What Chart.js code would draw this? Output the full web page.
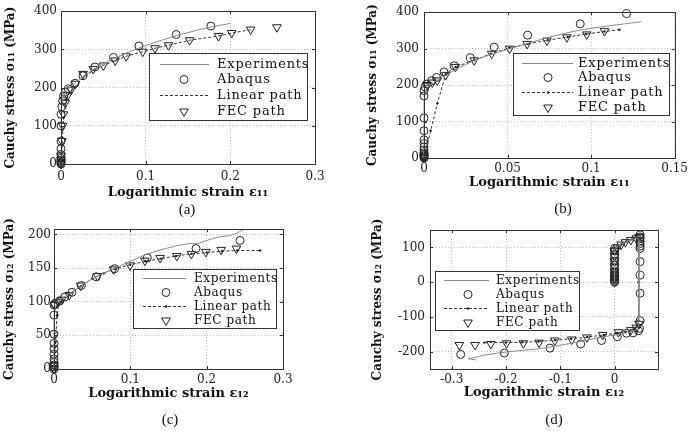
<!DOCTYPE html>
<html>
<head>
<meta charset="utf-8">
<script src="https://cdn.jsdelivr.net/npm/chart.js@4/dist/chart.umd.min.js"></script>
<style>
  body { margin: 0; background: #fff; }
  #fig { position: relative; width: 692px; height: 431px; overflow: hidden; }
  .panel { position: absolute; }
  .cap { position: absolute; font-family: 'Liberation Serif', serif; font-size: 15px; color: #111; transform: translate(-50%, -50%); }
</style>
</head>
<body>
<div id="fig">
  <canvas class="panel" id="chart-a" width="346" height="215" style="left:0;top:0"></canvas>
  <canvas class="panel" id="chart-b" width="346" height="215" style="left:346px;top:0"></canvas>
  <canvas class="panel" id="chart-c" width="346" height="216" style="left:0;top:215px"></canvas>
  <canvas class="panel" id="chart-d" width="346" height="216" style="left:346px;top:215px"></canvas>
  <div class="cap" style="left:187px;top:209px">(a)</div>
  <div class="cap" style="left:563px;top:208px">(b)</div>
  <div class="cap" style="left:170px;top:419px">(c)</div>
  <div class="cap" style="left:554px;top:419px">(d)</div>
</div>
<script>
// series names
const seriesLabels = ['Experiments', 'Abaqus', 'Linear path', 'FEC path'];

// (a) sigma11 vs eps11
const aXTicks = [0, 0.1, 0.2, 0.3];
const aYTicks = [0, 100, 200, 300, 400];
const aExperiments = [[0,0],[0,60],[0.0005,120],[0.001,150],[0.002,170],[0.004,183],[0.008,195],[0.015,210],[0.025,228],[0.04,250],[0.06,274],[0.08,293],[0.1,310],[0.12,325],[0.14,338],[0.16,350],[0.18,360],[0.2,368]];
const aAbaqus = [[0,0],[0,3],[0,8],[0,15],[0,25],[0,40],[0,60],[0,100],[0,130],[0.001,150],[0.002,165],[0.003,178],[0.005,188],[0.0086,197],[0.0165,211],[0.026,231],[0.04,254],[0.062,279],[0.092,309],[0.136,339],[0.177,361]];
const aLinear = [[0,0],[0.003,120],[0.006,165],[0.01,185],[0.017,205],[0.026,225],[0.038,245],[0.05,258],[0.064,271],[0.077,282],[0.097,294],[0.111,303],[0.127,311],[0.152,324],[0.186,335],[0.202,343],[0.225,352]];
const aFec = [[0,0],[0,5],[0,12],[0,22],[0.001,60],[0.002,100],[0.003,130],[0.005,160],[0.008,180],[0.012,195],[0.017,210],[0.026,236],[0.038,249],[0.05,258],[0.064,271],[0.077,282],[0.0965,294],[0.111,303],[0.127,311],[0.152,324],[0.186,335],[0.2016,343],[0.224,352],[0.255,358]];

// (b) sigma11 vs eps11
const bXTicks = [0, 0.05, 0.1, 0.15];
const bYTicks = [0, 100, 200, 300, 400];
const bExperiments = [[0,0],[0,100],[0,150],[0.001,185],[0.003,198],[0.006,208],[0.01,220],[0.02,245],[0.03,268],[0.04,284],[0.05,298],[0.06,312],[0.075,332],[0.09,348],[0.1,356],[0.11,362],[0.12,368],[0.13,374]];
const bAbaqus = [[0,0],[0,3],[0,6],[0,10],[0,15],[0,22],[0,30],[0,40],[0,50],[0,75],[0,110],[0,170],[0,185],[0.0006,195],[0.0016,203],[0.0046,212],[0.0075,221],[0.012,236],[0.018,253],[0.0277,275],[0.042,304],[0.062,337],[0.0935,368],[0.1212,396]];
const bLinear = [[0,0],[0.004,75],[0.008,150],[0.013,230],[0.019,250],[0.03,268],[0.04,286],[0.051,302],[0.062,313],[0.074,323],[0.086,332],[0.097,340],[0.108,347],[0.117,352]];
const bFec = [[0,0],[0,5],[0.002,200],[0.005,207],[0.008,213],[0.013,228],[0.0188,250],[0.03,268],[0.0405,286],[0.0512,300],[0.0617,313],[0.0736,322],[0.0855,331],[0.0974,339],[0.108,348]];

// (c) sigma12 vs eps12
const cXTicks = [0, 0.1, 0.2, 0.3];
const cYTicks = [0, 50, 100, 150, 200];
const cExperiments = [[0,0],[0,40],[0,80],[0.002,93],[0.006,100],[0.012,106],[0.02,112],[0.03,119],[0.04,127],[0.06,140],[0.08,150],[0.1,160],[0.12,170],[0.14,177],[0.16,183],[0.175,186],[0.19,187],[0.2,191],[0.215,196],[0.23,198],[0.24,202],[0.248,207]];
const cAbaqus = [[0,0],[0,3],[0,6],[0,10],[0,15],[0,22],[0,30],[0,38],[0,52],[0,80],[0,95],[0.0009,97],[0.0075,101],[0.014,107],[0.0236,114],[0.0358,124],[0.0554,137],[0.0795,149],[0.1222,165],[0.186,179],[0.2437,191]];
const cLinear = [[0,0],[0.002,40],[0.004,80],[0.006,95],[0.01,100],[0.02,110],[0.035,123],[0.05,134],[0.065,142],[0.08,149],[0.1,155],[0.12,160],[0.14,164],[0.16,168],[0.18,171],[0.2,173],[0.22,175],[0.24,176],[0.27,176]];
const cFec = [[0,0],[0,5],[0.001,95],[0.005,100],[0.01,103],[0.02,110],[0.035,124],[0.057,138],[0.078,148],[0.0996,154],[0.119,161],[0.139,165],[0.161,168],[0.18,171],[0.199,174],[0.219,177],[0.239,179]];

// (d) sigma12 vs eps12, load reversal
const dXTicks = [-0.3, -0.2, -0.1, 0];
const dYTicks = [-200, -100, 0, 100];
const dExperiments = [[0,0],[0,50],[0,95],[0.005,102],[0.012,110],[0.022,117],[0.033,123],[0.043,127],[0.045,120],[0.045,0],[0.045,-100],[0.044,-125],[0.04,-137],[0.03,-143],[0.015,-148],[0,-152],[-0.03,-160],[-0.06,-170],[-0.1,-182],[-0.14,-192],[-0.18,-198],[-0.21,-203],[-0.24,-210],[-0.26,-218],[-0.27,-220],[-0.255,-224]];
const dAbaqus = [[0,0],[0,5],[0,10],[0,15],[0,20],[0,25],[0,30],[0,40],[0,50],[0,60],[0,70],[0,80],[0,90],[0,97],[0.047,136],[0.047,130],[0.047,126],[0.047,118],[0.047,111],[0.047,104],[0.047,97],[0.047,59],[0.047,20],[0.047,-32],[0.047,-111],[0.046,-133],[0.044,-140],[0.034,-146],[0.022,-147],[0.005,-157],[-0.024,-168],[-0.0625,-178],[-0.119,-190],[-0.203,-204],[-0.2835,-208]];
const dLinear = [[0,0],[0,95],[0.006,103],[0.013,110],[0.022,117],[0.032,123],[0.042,127],[0.044,125],[0.044,0],[0.044,-110],[0.042,-128],[0.035,-138],[0.02,-143],[0.005,-147],[-0.02,-152],[-0.05,-158],[-0.08,-163],[-0.11,-167],[-0.14,-171],[-0.17,-173],[-0.2,-174],[-0.24,-174]];
const dFec = [[0,0],[0,10],[0,20],[0,30],[0,45],[0,60],[0,75],[0,90],[0.005,100],[0.012,108],[0.02,115],[0.03,121],[0.04,126],[0.045,130],[0.045,-120],[0.04,-131],[0.03,-138],[0.007,-144],[-0.022,-152],[-0.051,-159],[-0.079,-165],[-0.11,-168],[-0.139,-174],[-0.168,-176],[-0.199,-176],[-0.228,-178],[-0.257,-181],[-0.286,-181]];

const SERIF = "'DejaVu Serif', serif";

function pts(arr) {
    return arr.map(p => ({ x: p[0], y: p[1] }));
}

// box, ticks inside and legend drawn on top
const framePlugin = {
    id: 'frame',
    afterDraw(chart, args, opts) {
        const ctx = chart.ctx;
        const a = chart.chartArea;
        ctx.save();
        ctx.strokeStyle = '#333';
        ctx.lineWidth = 1;
        ctx.strokeRect(Math.round(a.left) + 0.5, Math.round(a.top) + 0.5, Math.round(a.right - a.left), Math.round(a.bottom - a.top));
        ctx.beginPath();
        chart.scales.x.ticks.forEach(t => {
            const px = Math.round(chart.scales.x.getPixelForValue(t.value)) + 0.5;
            ctx.moveTo(px, a.bottom); ctx.lineTo(px, a.bottom - 3);
            ctx.moveTo(px, a.top); ctx.lineTo(px, a.top + 3);
        });
        chart.scales.y.ticks.forEach(t => {
            const py = Math.round(chart.scales.y.getPixelForValue(t.value)) + 0.5;
            ctx.moveTo(a.left, py); ctx.lineTo(a.left + 3, py);
            ctx.moveTo(a.right, py); ctx.lineTo(a.right - 3, py);
        });
        ctx.stroke();
        ctx.restore();
        drawLegend(chart, opts.legend);
    }
};

function drawMarker(ctx, style, x, y, r) {
    ctx.beginPath();
    if (style === 'circle') {
        ctx.arc(x, y, r, 0, Math.PI * 2);
    } else {
        ctx.moveTo(x, y + r);
        ctx.lineTo(x - r * 0.866, y - r / 2);
        ctx.lineTo(x + r * 0.866, y - r / 2);
        ctx.closePath();
    }
}

function drawLegend(chart, L) {
    const ctx = chart.ctx;
    ctx.save();
    ctx.fillStyle = '#fff';
    ctx.fillRect(L.x, L.y, L.w, L.h);
    ctx.strokeStyle = '#333';
    ctx.lineWidth = 1;
    ctx.strokeRect(L.x + 0.5, L.y + 0.5, L.w, L.h);
    chart.data.datasets.forEach((ds, i) => {
        const y = Math.round(L.y + L.row0 + i * L.gap) + 0.5;
        if (ds.showLine) {
            ctx.save();
            ctx.strokeStyle = ds.borderColor;
            ctx.lineWidth = 1;
            ctx.setLineDash(ds.borderDash || []);
            ctx.beginPath();
            ctx.moveTo(L.x + L.s0, y);
            ctx.lineTo(L.x + L.s1, y);
            ctx.stroke();
            ctx.restore();
        }
        if (ds.pointRadius > 0) {
            const style = ds.pointRotation === 180 ? 'triangle' : 'circle';
            drawMarker(ctx, style, L.x + L.mx, y, ds.pointRadius);
            if (ds.showLine) {
                ctx.fillStyle = ds.pointBackgroundColor;
                ctx.fill();
            } else {
                ctx.strokeStyle = ds.pointBorderColor;
                ctx.stroke();
            }
        }
        ctx.fillStyle = '#111';
        ctx.font = L.font;
        ctx.letterSpacing = L.spacing;
        ctx.textBaseline = 'middle';
        ctx.textAlign = 'left';
        ctx.fillText(ds.label, L.x + L.tx, y);
    });
    ctx.restore();
}

function axis(min, max, ticks, fitSize, isX, title, titlePad, tickPad) {
    return {
        type: 'linear',
        min: min,
        max: max,
        afterBuildTicks: s => { s.ticks = ticks.map(v => ({ value: v })); },
        afterFit: s => { if (isX) s.height = fitSize; else s.width = fitSize; },
        grid: { color: '#bdbdbd', lineWidth: 1, drawTicks: false },
        border: { display: false, dash: [1, 2] },
        ticks: {
            color: '#222',
            padding: tickPad,
            maxRotation: 0,
            autoSkip: false,
            font: { family: SERIF, size: 12 },
            callback: v => String(v)
        },
        title: {
            display: true,
            text: title,
            color: '#111',
            font: { family: SERIF, size: isX ? 13 : 12, weight: 'bold' },
            padding: isX ? { top: 0, bottom: titlePad } : { top: titlePad, bottom: 0 }
        }
    };
}

function makePanel(id, p) {
    const datasets = [
        {
            label: seriesLabels[0], data: pts(p.exp), showLine: true,
            borderColor: '#8a8a8a', borderWidth: 1, pointRadius: 0, clip: false
        },
        {
            label: seriesLabels[1], data: pts(p.abq), showLine: false,
            pointStyle: 'circle', pointRadius: 4, pointBorderWidth: 1,
            pointBorderColor: '#222', pointBackgroundColor: 'rgba(0,0,0,0)', clip: false
        },
        {
            label: seriesLabels[2], data: pts(p.lin), showLine: true,
            borderColor: '#333', borderWidth: 1, borderDash: [3, 2],
            pointRadius: p.linDot, pointBorderWidth: 0, pointBackgroundColor: '#222',
            pointBorderColor: '#222', clip: false
        },
        {
            label: seriesLabels[3], data: pts(p.fec), showLine: false,
            pointStyle: 'triangle', pointRotation: 180, pointRadius: 5, pointBorderWidth: 1,
            pointBorderColor: '#222', pointBackgroundColor: 'rgba(0,0,0,0)', clip: false
        }
    ];
    new Chart(document.getElementById(id), {
        type: 'scatter',
        data: { datasets: datasets },
        options: {
            responsive: false,
            animation: false,
            events: [],
            layout: { padding: { left: 0, top: p.top, right: p.right, bottom: 0 } },
            plugins: {
                legend: { display: false },
                tooltip: { enabled: false },
                frame: { legend: p.legend }
            },
            scales: {
                x: axis(p.xMin, p.xMax, p.xTicks, p.xFit, true, p.xTitle, p.xTitlePad, p.xTickPad),
                y: axis(p.yMin, p.yMax, p.yTicks, p.yFit, false, p.yTitle, p.yTitlePad, p.yTickPad)
            }
        },
        plugins: [framePlugin]
    });
}

makePanel('chart-a', {
    exp: aExperiments, abq: aAbaqus, lin: aLinear, fec: aFec, linDot: 0,
    xMin: 0, xMax: 0.3, yMin: 0, yMax: 400, xTicks: aXTicks, yTicks: aYTicks,
    top: 7, right: 31, xFit: 51, yFit: 61, xTickPad: 6, yTickPad: 4,
    xTitle: 'Logarithmic strain ε₁₁', yTitle: 'Cauchy stress σ₁₁ (MPa)', xTitlePad: 15, yTitlePad: 4,
    legend: { x: 149, y: 53, w: 158, h: 67, row0: 10.5, gap: 15.7, s0: 11, s1: 60, mx: 35, tx: 68, font: "13px " + SERIF, spacing: '0.8px' }
});

makePanel('chart-b', {
    exp: bExperiments, abq: bAbaqus, lin: bLinear, fec: bFec, linDot: 1.2,
    xMin: 0, xMax: 0.15, yMin: 0, yMax: 400, xTicks: bXTicks, yTicks: bYTicks,
    top: 11, right: 16, xFit: 57, yFit: 78, xTickPad: 4, yTickPad: 5,
    xTitle: 'Logarithmic strain ε₁₁', yTitle: 'Cauchy stress σ₁₁ (MPa)', xTitlePad: 25, yTitlePad: 20,
    legend: { x: 167, y: 53, w: 156, h: 62, row0: 9.7, gap: 14.7, s0: 9, s1: 60, mx: 35, tx: 65, font: "13px " + SERIF, spacing: '0.8px' }
});

makePanel('chart-c', {
    exp: cExperiments, abq: cAbaqus, lin: cLinear, fec: cFec, linDot: 1.2,
    xMin: 0, xMax: 0.3, yMin: 0, yMax: 208, xTicks: cXTicks, yTicks: cYTicks,
    top: 14, right: 63, xFit: 62, yFit: 54, xTickPad: 4, yTickPad: 3,
    xTitle: 'Logarithmic strain ε₁₂', yTitle: 'Cauchy stress σ₁₂ (MPa)', xTitlePad: 30, yTitlePad: 3,
    legend: { x: 133, y: 54, w: 143, h: 59, row0: 8.5, gap: 14.2, s0: 10, s1: 53, mx: 33, tx: 61, font: "12px " + SERIF, spacing: '0.6px' }
});

makePanel('chart-d', {
    exp: dExperiments, abq: dAbaqus, lin: dLinear, fec: dFec, linDot: 1.2,
    xMin: -0.34, xMax: 0.08, yMin: -250, yMax: 150, xTicks: dXTicks, yTicks: dYTicks,
    top: 15, right: 34, xFit: 62, yFit: 84, xTickPad: 4, yTickPad: 5,
    xTitle: 'Logarithmic strain ε₁₂', yTitle: 'Cauchy stress σ₁₂ (MPa)', xTitlePad: 31, yTitlePad: 25,
    legend: { x: 89, y: 56, w: 144, h: 59, row0: 8.7, gap: 14.1, s0: 9, s1: 54, mx: 33, tx: 61, font: "12px " + SERIF, spacing: '0.6px' }
});
</script>
</body>
</html>
